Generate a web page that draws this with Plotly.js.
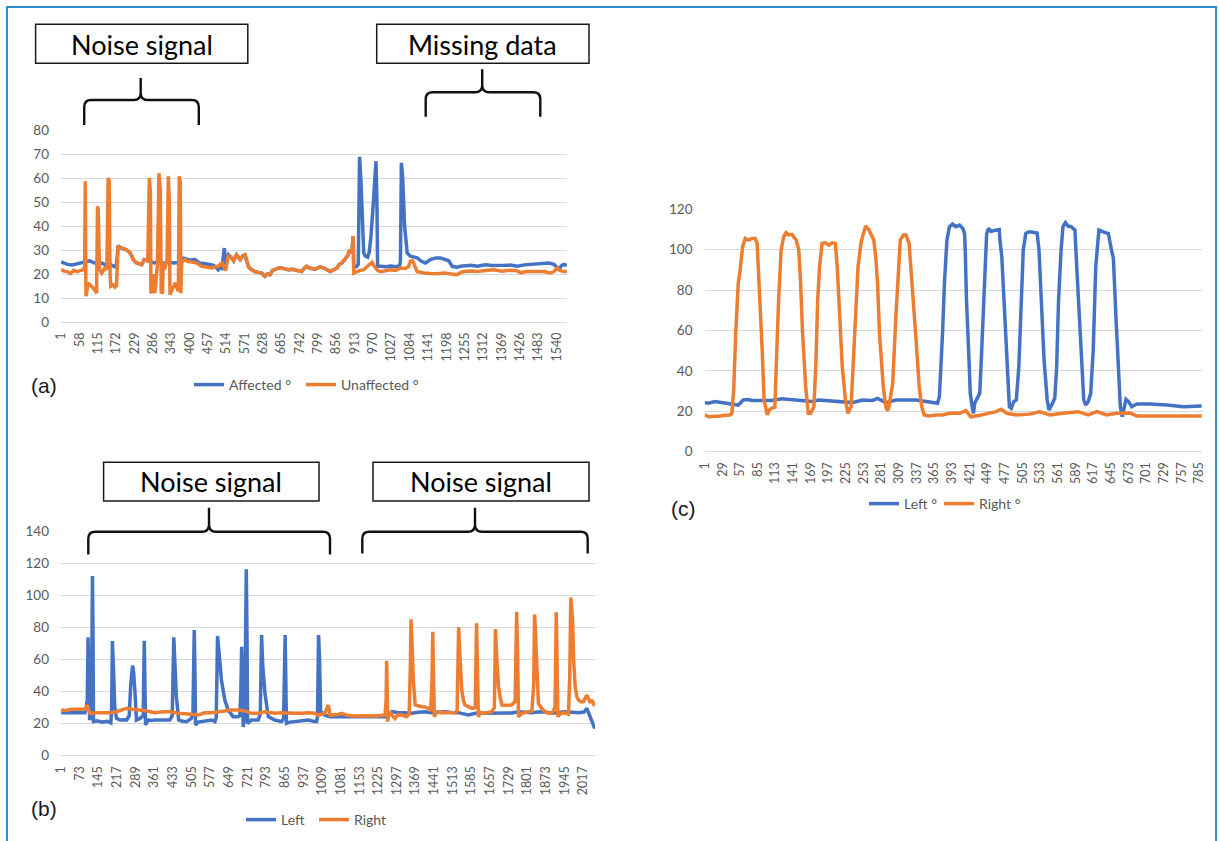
<!DOCTYPE html>
<html><head><meta charset="utf-8">
<script src="https://cdn.plot.ly/plotly-3.0.1.min.js"></script>
<style>html,body{margin:0;padding:0;background:#fff}#chart{width:1219px;height:841px}</style>
</head><body><div id="chart"></div>
<script>
// ---------- DATA ----------
// (a) sample index / angle (deg)
const aAffectedIdx = [1,10,20,35,50,64,78,90,100,112,127,137,150,160,168,173,178,184,189,197,204,210,215,220,225,235,245,251,259,270,280,290,305,320,335,350,365,375,385,400,417,430,445,460,475,489,495,500,505,508,512,521,531,537,546,557,565,572,583,590,603,614,624,634,642,650,657,665,676,686,697,707,720,735,748,757,764,772,790,806,820,837,848,858,865,873,882,889,893,897,901,905,908,910,918,924,928,932,938,941,946,953,958,963,970,975,979,982,984,995,1010,1025,1040,1052,1055,1058,1062,1068,1076,1086,1096,1107,1120,1133,1148,1165,1179,1195,1205,1216,1231,1242,1260,1273,1294,1319,1340,1356,1380,1397,1418,1440,1459,1480,1501,1515,1532,1548,1555,1563,1572];
const aAffected = [25.0,24.6,24.0,23.8,24.2,24.8,25.2,25.5,24.8,24.3,24.6,23.9,24.2,23.6,23.0,24.0,31.8,31.0,30.8,30.5,30.1,29.5,28.8,27.5,26.0,24.6,24.2,23.9,26.0,25.5,25.0,24.6,25.2,24.4,25.0,24.6,24.8,26.7,26.5,25.8,26.0,24.6,24.4,23.9,23.6,21.8,23.0,22.5,28.0,30.8,24.0,28.0,26.6,25.5,28.0,26.0,27.5,28.0,23.0,22.0,21.0,20.8,20.4,19.0,20.0,19.7,21.5,21.8,22.5,22.5,22.0,21.8,22.0,21.5,21.0,22.5,23.2,22.5,22.0,23.0,22.3,21.0,22.0,22.5,24.0,24.6,26.0,27.4,28.0,30.0,28.8,30.5,35.7,23.2,23.0,24.0,68.8,60.0,35.0,28.8,27.5,27.0,29.0,35.0,48.0,58.0,67.0,50.0,23.2,23.2,23.0,23.3,23.0,23.5,25.0,66.3,60.0,40.0,28.8,27.4,27.0,26.7,25.3,24.6,26.0,26.7,26.7,26.0,25.5,23.2,22.8,23.2,23.4,23.6,23.2,23.8,23.5,23.4,23.6,23.7,23.2,23.8,24.0,24.3,24.3,24.6,24.0,22.0,23.5,24.0,23.6];
const aUnaffectedIdx = [1,10,20,30,40,50,60,66,74,76,77,78,85,90,95,102,111,114,116,120,127,137,143,147,150,153,155,162,168,173,178,184,189,197,204,210,215,220,225,235,245,251,259,270,275,278,280,284,287,292,300,305,309,312,316,318,322,330,334,337,339,345,355,365,368,371,373,375,385,395,410,425,437,450,469,480,489,500,508,512,521,531,537,546,557,565,572,583,590,603,614,624,634,642,650,657,665,676,686,697,707,720,735,748,757,764,772,790,806,820,837,848,858,865,873,882,889,893,897,901,905,908,910,920,930,941,950,956,962,967,972,977,984,993,1010,1024,1040,1055,1070,1080,1086,1092,1096,1102,1107,1115,1127,1148,1169,1190,1210,1231,1242,1252,1273,1294,1319,1345,1370,1397,1418,1428,1445,1459,1480,1501,1522,1532,1542,1550,1563,1572];
const aUnaffected = [21.8,21.2,21.0,20.2,21.5,21.0,21.4,21.6,22.5,58.6,30.0,10.7,16.3,15.5,14.9,14.0,12.0,48.2,47.0,22.0,20.4,22.5,22.0,60.0,59.0,20.0,14.9,15.5,14.5,15.2,31.8,31.0,30.8,30.5,30.1,29.5,28.8,27.5,26.0,24.6,24.2,23.9,26.0,25.5,60.0,55.0,12.0,13.0,20.0,12.0,24.0,62.0,55.0,12.0,12.5,24.6,22.0,26.0,60.7,50.0,11.4,13.5,16.3,12.8,60.7,58.0,12.0,24.6,26.0,25.2,25.0,24.4,23.2,23.0,22.5,23.0,23.2,24.6,22.5,21.5,28.0,26.6,25.5,28.0,26.0,27.5,28.0,23.0,22.0,21.0,20.8,20.4,19.0,20.0,19.7,21.5,21.8,22.5,22.5,22.0,21.8,22.0,21.5,21.0,22.5,23.2,22.5,22.0,23.0,22.3,21.0,22.0,22.5,24.0,24.6,26.0,27.4,28.0,30.0,28.8,30.5,35.7,20.4,21.0,21.5,21.8,23.0,23.9,24.5,24.9,23.5,22.5,21.5,21.0,21.5,21.8,21.5,22.5,22.3,23.0,25.3,25.5,24.6,22.5,21.0,20.8,20.4,20.2,20.1,20.4,20.2,19.7,20.6,21.0,21.2,21.0,21.5,21.8,21.2,21.6,21.3,20.5,21.0,21.0,21.2,21.0,20.4,21.0,22.5,21.5,21.0,21.0];

// (b)
const bLeftIdx = [1,30,60,93,98,102,105,108,111,114,118,122,124,126,140,160,180,193,196,199,203,208,215,228,245,254,264,270,277,281,286,292,305,318,322,325,327,337,350,363,380,402,421,430,436,441,446,455,470,485,504,510,515,518,520,530,543,560,582,595,600,605,612,620,633,646,665,685,691,695,698,701,704,710,716,719,721,736,762,770,775,780,788,801,826,852,860,866,869,871,885,904,930,955,975,987,991,995,999,1003,1019,1039,1059,1084,1123,1174,1213,1252,1278,1300,1329,1355,1380,1406,1430,1445,1470,1484,1510,1535,1560,1574,1600,1612,1638,1664,1690,1715,1741,1767,1790,1819,1840,1857,1880,1896,1920,1947,1975,1999,2020,2031,2037,2044,2055,2062];
const bLeft = [26.9,26.9,27.0,26.9,30.0,35.0,74.0,50.0,22.3,24.0,30.0,112.3,80.0,21.3,21.8,21.0,21.5,20.5,30.0,71.7,55.0,30.6,23.3,22.3,22.5,22.3,25.0,45.0,56.3,52.0,40.0,22.3,23.3,25.0,71.9,45.0,19.2,22.3,22.0,22.3,22.5,22.3,22.3,25.0,74.0,55.0,36.9,22.3,21.5,21.3,23.3,27.0,78.5,50.0,19.2,21.0,21.3,22.0,22.3,21.3,24.0,74.8,60.0,47.3,34.8,28.5,24.4,24.4,25.0,40.0,68.1,40.0,18.0,25.0,116.5,70.0,20.2,22.3,22.3,26.0,75.4,55.0,39.0,24.4,22.3,21.3,23.0,75.4,45.0,20.2,21.0,21.3,22.0,22.3,21.5,21.3,24.0,75.4,60.0,27.5,25.4,24.4,24.4,24.4,24.4,24.4,24.2,24.4,27.5,27.0,26.9,26.5,27.2,27.5,26.8,26.9,27.2,27.5,27.0,26.9,26.0,25.4,26.5,26.5,26.9,26.9,26.7,26.5,26.7,27.5,27.2,26.9,27.3,27.5,27.0,26.5,27.0,27.5,27.2,26.9,27.3,29.6,27.0,24.4,20.0,17.0];
const bRightIdx = [1,20,40,60,80,93,102,108,112,140,170,193,215,235,254,275,300,322,345,363,385,402,421,450,470,491,530,555,582,605,633,660,685,710,736,762,788,826,850,878,904,930,955,980,995,1019,1033,1039,1059,1070,1084,1100,1123,1150,1174,1200,1213,1240,1252,1256,1258,1260,1262,1266,1271,1280,1290,1300,1316,1335,1345,1350,1352,1356,1361,1368,1380,1393,1406,1419,1428,1433,1436,1439,1442,1450,1458,1470,1484,1500,1522,1530,1534,1536,1540,1548,1555,1561,1575,1587,1600,1603,1605,1608,1612,1620,1638,1650,1664,1674,1678,1682,1690,1697,1703,1720,1741,1754,1758,1760,1763,1767,1780,1795,1806,1819,1826,1829,1832,1838,1844,1857,1870,1885,1896,1908,1911,1913,1916,1919,1930,1947,1960,1965,1969,1972,1976,1980,1986,1992,1999,2010,2018,2025,2031,2037,2044,2050,2062];
const bRight = [28.5,28.3,29.0,28.8,28.6,29.0,31.7,28.0,26.5,26.8,26.6,26.9,27.5,28.5,29.6,29.0,28.7,28.3,27.5,26.9,27.3,27.5,27.6,26.5,26.5,26.0,25.4,26.8,26.9,27.5,28.2,28.5,28.5,28.0,26.5,26.5,27.5,26.5,26.8,26.9,26.5,26.5,26.9,26.5,25.4,26.5,31.7,25.4,25.4,25.8,26.5,25.5,24.8,25.0,24.8,25.0,24.8,24.9,25.4,35.0,59.4,40.0,21.3,26.0,27.5,25.0,23.3,25.5,25.4,24.4,26.0,60.0,85.2,70.0,47.3,31.7,31.0,30.6,30.5,29.6,28.0,45.0,77.5,55.0,24.4,27.0,27.5,26.8,26.9,26.5,26.9,28.0,60.0,80.2,65.0,41.0,34.0,31.7,30.5,29.6,30.0,60.0,82.7,60.0,24.4,27.0,26.5,27.0,27.5,30.0,79.2,65.0,43.1,36.0,31.7,31.5,31.7,34.0,70.0,90.0,70.0,24.4,26.5,27.0,27.5,28.0,45.0,88.3,80.0,53.5,32.7,29.5,27.5,26.5,26.5,30.0,70.0,89.6,60.0,24.4,26.5,26.9,26.0,50.0,98.8,90.0,84.8,60.0,43.1,37.0,34.8,33.6,33.8,36.0,37.9,36.0,33.0,34.8,31.0];

// (c)
const cLeftIdx = [1,7,17,23,33,44,54,62,70,76,92,107,123,139,155,171,182,203,219,235,251,267,275,288,304,320,336,352,362,370,373,376,378,381,385,389,394,399,405,410,413,414,416,420,422,425,427,429,432,437,439,442,446,448,451,455,460,468,469,472,476,480,484,487,491,495,499,502,506,510,514,519,528,531,535,539,544,547,551,556,559,562,566,569,573,577,582,588,590,594,598,602,605,609,613,617,621,623,626,633,641,646,649,653,657,660,663,666,669,673,678,686,707,734,757,760,789];
const cLeft = [24.3,24.0,24.8,24.5,24.3,23.6,23.1,25.6,25.8,25.4,25.6,25.4,26.2,25.6,25.1,24.8,25.6,25.1,24.8,24.3,25.6,25.4,26.4,24.3,25.6,25.4,25.6,24.8,24.3,24.0,27.2,42.0,58.6,83.3,104.8,111.4,112.7,111.4,112.2,110.6,108.0,99.8,75.0,45.4,28.9,22.3,19.0,24.0,25.6,28.9,42.0,66.8,91.6,108.0,110.6,109.0,109.5,110.0,104.8,96.5,71.8,45.4,22.3,21.5,24.8,25.6,42.0,66.8,99.8,108.0,108.8,108.8,108.3,99.8,75.0,45.4,25.6,20.6,23.1,26.4,42.0,75.0,99.8,111.4,113.4,111.7,111.4,109.7,96.5,71.8,45.4,25.6,23.1,24.8,28.9,50.3,91.6,101.5,109.7,108.8,108.0,99.8,95.7,66.8,37.1,22.3,17.3,22.3,25.9,24.8,22.3,23.6,23.6,23.1,22.6,22.3,22.6];
const cRightIdx = [1,7,17,23,33,41,44,47,50,54,57,61,65,70,76,81,84,86,89,92,95,100,103,107,112,114,118,122,126,130,134,139,146,150,153,156,161,165,169,174,177,180,183,187,192,198,203,208,211,215,219,224,228,233,236,240,244,249,253,256,261,267,269,272,275,278,284,288,291,293,299,304,308,311,316,320,325,330,336,341,345,349,357,368,378,389,405,415,423,437,452,463,471,480,495,516,532,548,569,593,609,623,638,654,675,686,707,734,760,789];
const cRight = [18.2,17.3,17.6,17.5,18.0,18.2,19.0,32.0,58.6,83.3,90.0,101.5,105.6,104.8,105.6,105.6,103.0,91.6,75.0,50.3,25.6,18.2,20.6,21.5,22.0,42.0,75.0,99.8,106.4,108.4,107.3,107.6,104.8,99.8,83.3,58.6,32.2,19.0,19.0,22.3,42.0,75.0,91.6,103.1,103.4,102.3,103.4,103.1,91.6,66.8,42.0,25.6,19.0,22.3,42.0,66.8,91.6,104.0,108.0,111.7,110.0,106.4,104.8,96.5,83.3,58.6,32.2,22.3,20.3,22.3,33.8,66.8,89.1,104.8,107.3,107.3,103.1,83.3,55.3,32.2,22.3,18.2,17.7,18.2,18.2,19.0,19.0,20.3,17.3,18.0,19.0,19.8,21.0,19.0,18.2,18.6,19.8,18.2,19.0,19.8,18.2,19.8,18.2,19.0,19.2,17.7,17.7,17.7,18.0,17.7];

// tick labels
const aTicks = [1,58,115,172,229,286,343,400,457,514,571,628,685,742,799,856,913,970,1027,1084,1141,1198,1255,1312,1369,1426,1483,1540];
const bTicks = [1,73,145,217,289,361,433,505,577,649,721,793,865,937,1009,1081,1153,1225,1297,1369,1441,1513,1585,1657,1729,1801,1873,1945,2017];
const cTicks = [1,29,57,85,113,141,169,197,225,253,281,309,337,365,393,421,449,477,505,533,561,589,617,645,673,701,729,757,785];
const aYTicks = [0,10,20,30,40,50,60,70,80];
const bYTicks = [0,20,40,60,80,100,120,140];
const cYTicks = [0,20,40,60,80,100,120];

// ---------- LAYOUT ----------
const W = 1219, H = 841;
const X = p => p / W;
const Y = p => 1 - p / H;
const BLUE = '#4472C4', ORANGE = '#ED7D31';
const FONT = 'Lato, "Open Sans", sans-serif';
const TICKCOL = '#595959';

function tr(x, y, name, color, xa, ya, lg, lw) {
  const t = {x: x, y: y, name: name, type: 'scatter', mode: 'lines',
    line: {color: color, width: 3.5}, xaxis: xa, yaxis: ya, legend: lg, hoverinfo: 'skip'};
  if (lw) t.legendwidth = lw;
  return t;
}
const data = [
  tr(aAffectedIdx, aAffected, 'Affected °', BLUE, 'x', 'y', 'legend'),
  tr(aUnaffectedIdx, aUnaffected, 'Unaffected °', ORANGE, 'x', 'y', 'legend', 90),
  tr(bLeftIdx, bLeft, 'Left', BLUE, 'x2', 'y2', 'legend2'),
  tr(bRightIdx, bRight, 'Right', ORANGE, 'x2', 'y2', 'legend2', 60),
  tr(cLeftIdx, cLeft, 'Left °', BLUE, 'x3', 'y3', 'legend3'),
  tr(cRightIdx, cRight, 'Right °', ORANGE, 'x3', 'y3', 'legend3', 60)
];

function xax(d0, d1, n, ticks, anchor) {
  return {domain: [X(d0), X(d1)], range: [0.5, n + 0.5], anchor: anchor,
    tickmode: 'array', tickvals: ticks, ticktext: ticks.map(String),
    tickangle: -90, tickfont: {family: FONT, size: 12.5, color: TICKCOL},
    showgrid: false, zeroline: false, showline: false, ticks: '', ticklabelstandoff: 7,
    fixedrange: true};
}
function yax(p0, p1, max, ticks, anchor) {
  return {domain: [Y(p1), Y(p0)], range: [0, max], anchor: anchor,
    tickmode: 'array', tickvals: ticks, ticktext: ticks.map(String),
    tickfont: {family: FONT, size: 13.5, color: TICKCOL},
    showgrid: true, gridcolor: '#D9D9D9', gridwidth: 1,
    zeroline: true, zerolinecolor: '#D9D9D9', zerolinewidth: 1,
    showline: false, ticks: '', ticklabelstandoff: 11, fixedrange: true};
}

function bracket(x0, x1, xc, yh, yb, yt, r) {
  const P = (x, y) => X(x) + ',' + Y(y);
  return 'M' + P(x0, yb) + ' L' + P(x0, yh + r) + ' Q' + P(x0, yh) + ' ' + P(x0 + r, yh) +
    ' L' + P(xc - r, yh) + ' Q' + P(xc, yh) + ' ' + P(xc, yh - r) + ' L' + P(xc, yt) +
    ' M' + P(xc, yh - r) + ' Q' + P(xc, yh) + ' ' + P(xc + r, yh) +
    ' L' + P(x1 - r, yh) + ' Q' + P(x1, yh) + ' ' + P(x1, yh + r) + ' L' + P(x1, yb);
}
function box(x0, y0, x1, y1) {
  return {type: 'rect', xref: 'paper', yref: 'paper', x0: X(x0), x1: X(x1), y0: Y(y1), y1: Y(y0),
    line: {color: '#1a1a1a', width: 1.5}, fillcolor: 'rgba(0,0,0,0)'};
}
function brk(path) {
  return {type: 'path', xref: 'paper', yref: 'paper', path: path, line: {color: '#111', width: 2.4}};
}
function boxText(t, cx, cy) {
  return {text: t, xref: 'paper', yref: 'paper', x: X(cx), y: Y(cy), xanchor: 'center', yanchor: 'middle',
    showarrow: false, font: {family: FONT, size: 27, color: '#000'}};
}
function panelLabel(t, cx, cy) {
  return {text: t, xref: 'paper', yref: 'paper', x: X(cx), y: Y(cy), xanchor: 'center', yanchor: 'middle',
    showarrow: false, font: {family: '"Liberation Sans", Arial, sans-serif', size: 21, color: '#1a1a1a'}};
}
function leg(px, py, ew) {
  return {orientation: 'h', x: X(px), y: Y(py), xanchor: 'left', yanchor: 'middle',
    bgcolor: 'rgba(0,0,0,0)', borderwidth: 0, entrywidth: ew, entrywidthmode: 'pixels',
    font: {family: FONT, size: 14, color: TICKCOL}, itemclick: false, itemdoubleclick: false};
}

const layout = {
  width: W, height: H, autosize: false,
  margin: {l: 0, r: 0, t: 0, b: 0, pad: 0},
  paper_bgcolor: '#ffffff', plot_bgcolor: '#ffffff',
  font: {family: FONT},
  showlegend: true,
  xaxis: xax(61, 567, 1572, aTicks, 'y'),
  yaxis: yax(130, 322, 80, aYTicks, 'x'),
  xaxis2: xax(61, 595, 2062, bTicks, 'y2'),
  yaxis2: yax(531.7, 755.7, 140, bYTicks, 'x2'),
  xaxis3: xax(704.5, 1202, 789, cTicks, 'y3'),
  yaxis3: yax(209.3, 451.7, 120, cYTicks, 'x3'),
  legend: leg(189, 385, 67),
  legend2: leg(241, 820, 28),
  legend3: leg(864, 504, 30),
  shapes: [
    {type: 'rect', xref: 'paper', yref: 'paper', x0: X(7), x1: X(1216), y0: Y(860), y1: Y(7),
      line: {color: '#2E8FD0', width: 2}, fillcolor: 'rgba(0,0,0,0)', layer: 'below'},
    box(35.6, 24.3, 247.8, 63.3),
    box(376.7, 24.3, 589, 63.3),
    box(103.6, 462.3, 319, 501),
    box(373, 462.3, 589, 501),
    brk(bracket(84.2, 198.8, 140.7, 100, 125, 78, 7)),
    brk(bracket(425.7, 540.3, 482.2, 92.3, 116.7, 69.3, 7)),
    brk(bracket(88.3, 330, 209, 531.7, 554.5, 507.7, 7)),
    brk(bracket(362.3, 587.7, 475, 531.7, 553.5, 507.7, 7))
  ],
  annotations: [
    boxText('Noise signal', 141.7, 44),
    boxText('Missing data', 482.9, 44),
    boxText('Noise signal', 211.3, 482),
    boxText('Noise signal', 481, 482),
    panelLabel('(a)', 44, 385),
    panelLabel('(b)', 44, 808),
    panelLabel('(c)', 683, 508)
  ]
};

Plotly.newPlot('chart', data, layout, {displayModeBar: false, staticPlot: true});
</script></body></html>
